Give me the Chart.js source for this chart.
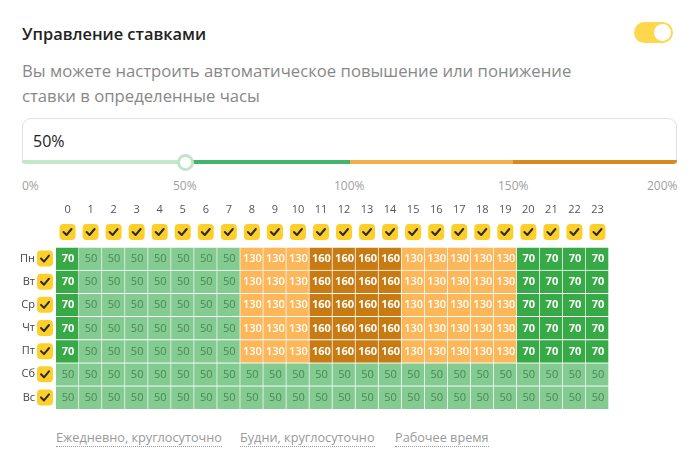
<!DOCTYPE html>
<html>
<head>
<meta charset="utf-8">
<script src="https://cdn.jsdelivr.net/npm/chart.js@4"></script>
<style>
  html, body { margin: 0; padding: 0; background: #fff; }
  body { width: 699px; height: 457px; position: relative; overflow: hidden; font-family: 'Open Sans', sans-serif; }
  .title { position: absolute; left: 22px; top: 22px; font-size: 16.4px; font-weight: 600; color: #222; }
  .toggle { position: absolute; left: 634px; top: 22px; width: 39px; height: 21px; border-radius: 11px; background: #fdd84c; }
  .toggle::after { content: ''; position: absolute; right: 2px; top: 2px; width: 17px; height: 17px; border-radius: 50%; background: #fff; }
  .subtitle { position: absolute; left: 22px; top: 58px; width: 580px; font-size: 16.7px; line-height: 25px; color: #888; }
  .box { position: absolute; left: 22px; top: 118px; width: 653px; height: 45px; border: 1px solid #e2e2e2; border-bottom: none; border-radius: 9px 9px 0 0; }
  .box .value { position: absolute; left: 10px; top: 11px; font-size: 16px; color: #222; }
  .track { position: absolute; left: 22px; top: 160px; width: 655px; height: 4px; display: flex; border-radius: 0 0 6px 6px; overflow: hidden; }
  .track span { flex: 1; }
  .thumb { position: absolute; left: 177px; top: 154px; width: 11px; height: 11px; border-radius: 50%; background: #fff; border: 3px solid #bfe6c9; }
  .pct { position: absolute; top: 177px; font-size: 12px; color: #a0a0a0; }
  .link { position: absolute; top: 428px; font-size: 12.7px; color: #9a9a9a; border-bottom: 1px dotted #9a9a9a; white-space: nowrap; }
  #grid { position: absolute; left: 0; top: 196px; }
</style>
</head>
<body>
<div class="title">Управление ставками</div>
<div class="toggle"></div>
<div class="subtitle">Вы можете настроить автоматическое повышение или понижение ставки в определенные часы</div>
<div class="box"><div class="value">50%</div></div>
<div class="track">
  <span style="background:#c2e7cb"></span>
  <span style="background:#41b66a"></span>
  <span style="background:#f1ae4b"></span>
  <span style="background:#d78b1f"></span>
</div>
<div class="thumb"></div>
<div class="pct" style="left:22px">0%</div>
<div class="pct" style="left:173px">50%</div>
<div class="pct" style="left:334px">100%</div>
<div class="pct" style="left:498px">150%</div>
<div class="pct" style="left:647px">200%</div>
<div class="link" style="left:56px">Ежедневно, круглосуточно</div>
<div class="link" style="left:240px">Будни, круглосуточно</div>
<div class="link" style="left:395px">Рабочее время</div>
<canvas id="grid" width="699" height="220"></canvas>
<script>
const hours = ['0', '1', '2', '3', '4', '5', '6', '7', '8', '9', '10', '11', '12', '13', '14', '15', '16', '17', '18', '19', '20', '21', '22', '23'];
const days = ['Пн', 'Вт', 'Ср', 'Чт', 'Пт', 'Сб', 'Вс'];
const weekdayRates = [70, 50, 50, 50, 50, 50, 50, 50, 130, 130, 130, 160, 160, 160, 160, 130, 130, 130, 130, 130, 70, 70, 70, 70];
const weekendRates = [50, 50, 50, 50, 50, 50, 50, 50, 50, 50, 50, 50, 50, 50, 50, 50, 50, 50, 50, 50, 50, 50, 50, 50];
const dayRates = [weekdayRates, weekdayRates, weekdayRates, weekdayRates, weekdayRates, weekendRates, weekendRates];

const rateColors = { 50: '#83cb90', 70: '#38a947', 130: '#fcb75b', 160: '#c77b12' };
const rateText = { 50: '#4b8656', 70: '#ffffff', 130: '#ffffff', 160: '#ffffff' };
const FONT = "'Open Sans', sans-serif";

function drawCheckbox(ctx, cx, cy) {
  const s = 16;
  ctx.save();
  ctx.fillStyle = '#fccf2b';
  ctx.beginPath();
  ctx.roundRect(cx - s / 2, cy - s / 2, s, s, 4);
  ctx.fill();
  ctx.strokeStyle = '#2b2b2b';
  ctx.lineWidth = 2;
  ctx.lineCap = 'round';
  ctx.lineJoin = 'round';
  ctx.beginPath();
  ctx.moveTo(cx - 4, cy);
  ctx.lineTo(cx - 1, cy + 3);
  ctx.lineTo(cx + 4, cy - 3);
  ctx.stroke();
  ctx.restore();
}

// подписи ячеек, часы сверху, дни слева, чекбоксы
const gridDecor = {
  id: 'gridDecor',
  afterDatasetsDraw(chart) {
    const { ctx, scales } = chart;
    const x = scales.x;
    const y = scales.y;
    const top = chart.chartArea.top;

    chart.data.datasets.forEach((ds, di) => {
      const meta = chart.getDatasetMeta(di);
      meta.data.forEach((bar, i) => {
        const rate = ds.rates[i];
        const c = bar.getCenterPoint();
        ctx.save();
        ctx.font = (rate === 50 ? '400 ' : rate === 130 ? '600 ' : '700 ') + '11px ' + FONT;
        ctx.fillStyle = rateText[rate];
        ctx.textAlign = 'center';
        ctx.textBaseline = 'middle';
        ctx.fillText(String(rate), c.x + 0.5, c.y + 0.5);
        ctx.restore();
      });
    });

    hours.forEach((h, i) => {
      const px = x.getPixelForValue(i);
      ctx.save();
      ctx.font = '11px ' + FONT;
      ctx.fillStyle = '#555';
      ctx.textAlign = 'center';
      ctx.textBaseline = 'middle';
      ctx.fillText(h, px, top - 37);
      ctx.restore();
      drawCheckbox(ctx, px, top - 15);
    });

    days.forEach((d, i) => {
      const py = y.getPixelForValue(days.length - i - 0.5);
      ctx.save();
      ctx.font = '11px ' + FONT;
      ctx.fillStyle = '#444';
      ctx.textAlign = 'right';
      ctx.textBaseline = 'middle';
      ctx.fillText(d, 35, py);
      ctx.restore();
      drawCheckbox(ctx, 45, py);
    });
  },
};

// наборы снизу вверх: Вс ... Пн
const datasets = days.map((d, di) => {
  const rates = dayRates[di];
  return {
    label: d,
    rates,
    data: hours.map(() => 1),
    backgroundColor: rates.map((r) => rateColors[r]),
    borderColor: '#ffffff',
    borderWidth: { top: 1, right: 1, bottom: 0, left: 0 },
    borderSkipped: false,
    barPercentage: 1,
    categoryPercentage: 1,
  };
}).reverse();

new Chart(document.getElementById('grid'), {
  type: 'bar',
  data: { labels: hours, datasets },
  options: {
    responsive: false,
    animation: false,
    layout: { padding: { left: 56, right: 90, top: 51, bottom: 7 } },
    plugins: { legend: { display: false }, tooltip: { enabled: false } },
    scales: {
      x: { stacked: true, display: false },
      y: { stacked: true, display: false, min: 0, max: days.length },
    },
  },
  plugins: [gridDecor],
});
</script>
</body>
</html>
